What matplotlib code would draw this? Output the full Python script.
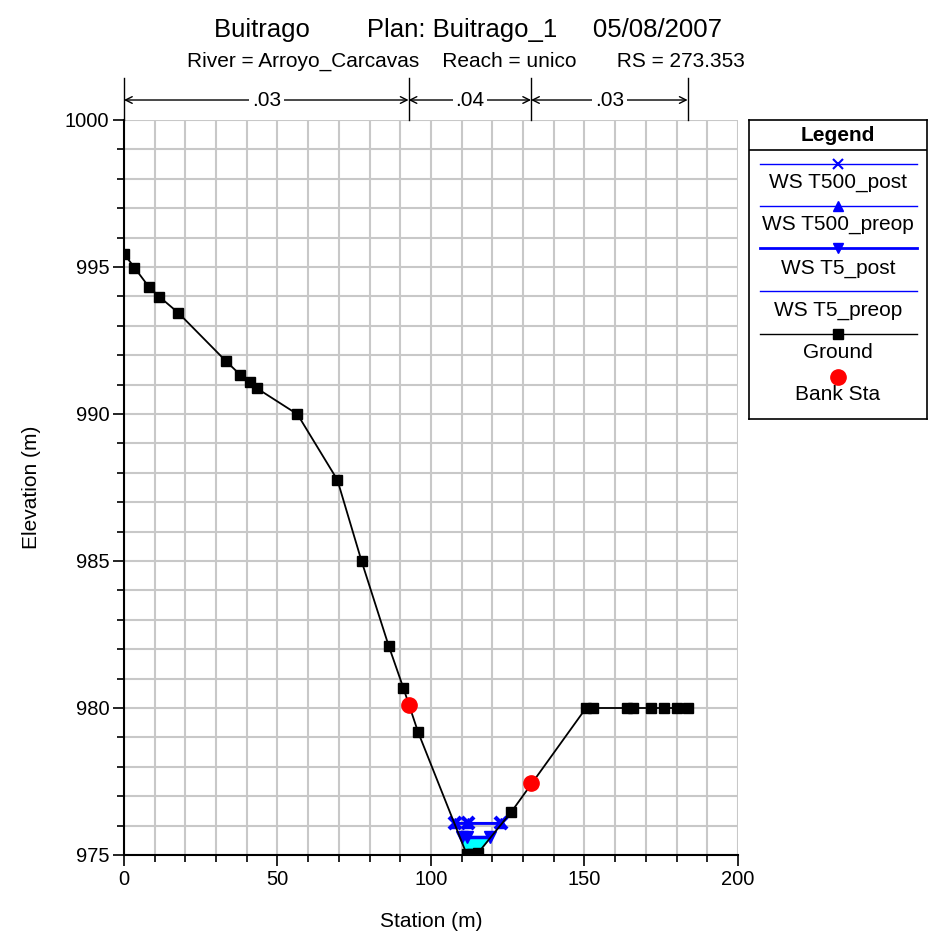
import matplotlib
matplotlib.use("Agg")
import matplotlib.pyplot as plt
import numpy as np
from matplotlib.ticker import MultipleLocator

plt.rcParams['font.family'] = ['Liberation Sans', 'DejaVu Sans']

# ground profile
ground_x = [0, 3.4, 8.2, 11.5, 17.7, 33.1, 37.9, 40.9, 43.2, 56.5, 69.5, 77.4,
            86.2, 91.0, 95.8, 111.6, 113.5, 115.4, 126.2, 150.5, 152.7,
            163.7, 165.9, 171.6, 175.9, 180.0, 183.6]
ground_y = [995.45, 994.98, 994.31, 993.99, 993.44, 991.81, 991.33, 991.08,
            990.88, 989.99, 987.76, 984.99, 982.12, 980.68, 979.18, 975.03,
            975.05, 975.08, 976.47, 980.0, 980.0, 980.0, 980.0, 980.0, 980.0,
            980.0, 980.0]

# bank stations
bank_x = [92.7, 132.6]
bank_y = [980.1, 977.44]

# water surfaces
ws_t500_x = [107.8, 112.0, 122.8]
ws_t500_post = 976.08
ws_t500_preop = 976.08
ws_t5_x = [110.0, 111.6, 119.2]
ws_t5_post = 975.6
ws_t5_preop = 975.6

# manning n values
n_stations = [0, 92.7, 132.6, 183.6]
n_values = ['.03', '.04', '.03']

fig = plt.figure(figsize=(9.37, 9.35), dpi=100)
ax = fig.add_axes([124/937, 1-855/935, 614/937, 735/935])

gx = np.array(ground_x)
gy = np.array(ground_y)
# water below the lowest surface
ax.fill_between(gx, gy, ws_t5_post, where=gy <= ws_t5_post,
                interpolate=True, color='#00ffff', zorder=2, lw=0)

ax.plot(ws_t5_x, [ws_t5_preop]*3, color='blue', lw=1.5, zorder=3)
ax.plot(ws_t5_x, [ws_t5_post]*3, color='blue', lw=2.5, marker='v', ms=8, zorder=3)
ax.plot(ws_t500_x, [ws_t500_preop]*3, color='blue', lw=1.5, marker='^', ms=7, zorder=3)
ax.plot(ws_t500_x, [ws_t500_post]*3, color='blue', lw=2, marker='x', ms=8, mew=3, zorder=3)
ax.plot(gx, gy, color='black', lw=1.3, marker='s', ms=7, zorder=4)
ax.plot(bank_x, bank_y, ls='none', marker='o', color='red', ms=11, zorder=5)

ax.set_xlim(0, 200)
ax.set_ylim(975, 1000)
ax.xaxis.set_major_locator(MultipleLocator(50))
ax.xaxis.set_minor_locator(MultipleLocator(10))
ax.yaxis.set_major_locator(MultipleLocator(5))
ax.yaxis.set_minor_locator(MultipleLocator(1))
ax.grid(True, which='both', color='#c8c8c8', lw=1.5, zorder=0)
ax.set_axisbelow(True)
for s in ['top', 'right']:
    ax.spines[s].set_visible(False)
for s in ['left', 'bottom']:
    ax.spines[s].set_linewidth(1.5)
ax.tick_params(which='major', length=8, width=1.2, labelsize=14.5, pad=2.5)
ax.tick_params(which='minor', length=5, width=1.2)
ax.set_xlabel('Station (m)', fontsize=15, labelpad=17)
ax.set_ylabel('Elevation (m)', fontsize=15, labelpad=17)

# manning n annotations above plot
tr = ax.get_xaxis_transform()
for s in n_stations:
    ax.plot([s, s], [1.0, 1.057], transform=tr, color='black', lw=1, clip_on=False)
for i, n in enumerate(n_values):
    a, b = n_stations[i], n_stations[i+1]
    ax.annotate('', xy=(a, 1.0272), xytext=(b, 1.0272), xycoords=tr, textcoords=tr,
                arrowprops=dict(arrowstyle='<->', lw=1, color='black',
                                shrinkA=0, shrinkB=0, mutation_scale=12))
    ax.text((a+b)/2, 1.0272, n, transform=tr, ha='center', va='center', fontsize=15,
            bbox=dict(facecolor='white', edgecolor='none', pad=2))

fig.text(0.5, 1-30/935, 'Buitrago        Plan: Buitrago_1     05/08/2007',
         ha='center', va='center', fontsize=18.5)
fig.text(0.497, 1-61/935, 'River = Arroyo_Carcavas    Reach = unico       RS = 273.353',
         ha='center', va='center', fontsize=15)

# legend box drawn in pixel coords
lg = fig.add_axes([749/937, 1-419/935, 178/937, 299/935])
lg.set_xlim(749, 927)
lg.set_ylim(419, 120)
lg.set_xticks([])
lg.set_yticks([])
for s in lg.spines.values():
    s.set_linewidth(1.2)
lg.plot([749, 927], [150, 150], color='black', lw=1.2)
lg.text(838, 135, 'Legend', ha='center', va='center', fontsize=15, fontweight='bold')
entries = [('WS T500_post', 164, 182, dict(color='blue', lw=1, marker='x', ms=7, mew=1.5)),
           ('WS T500_preop', 206, 224, dict(color='blue', lw=1, marker='^', ms=7)),
           ('WS T5_post', 248, 268, dict(color='blue', lw=2, marker='v', ms=7)),
           ('WS T5_preop', 291, 310, dict(color='blue', lw=1)),
           ('Ground', 334, 353, dict(color='black', lw=1, marker='s', ms=7))]
for label, ly, ty, kw in entries:
    lg.plot([760, 917], [ly, ly], color=kw['color'], lw=kw['lw'])
    if 'marker' in kw:
        lg.plot([838], [ly], ls='none', color=kw['color'], marker=kw['marker'],
                ms=kw['ms'], mew=kw.get('mew', 1))
    lg.text(838, ty, label, ha='center', va='center', fontsize=15)
lg.plot([838], [377], ls='none', marker='o', color='red', ms=11)
lg.text(838, 395, 'Bank Sta', ha='center', va='center', fontsize=15)

fig.savefig('out.png', dpi=100)
